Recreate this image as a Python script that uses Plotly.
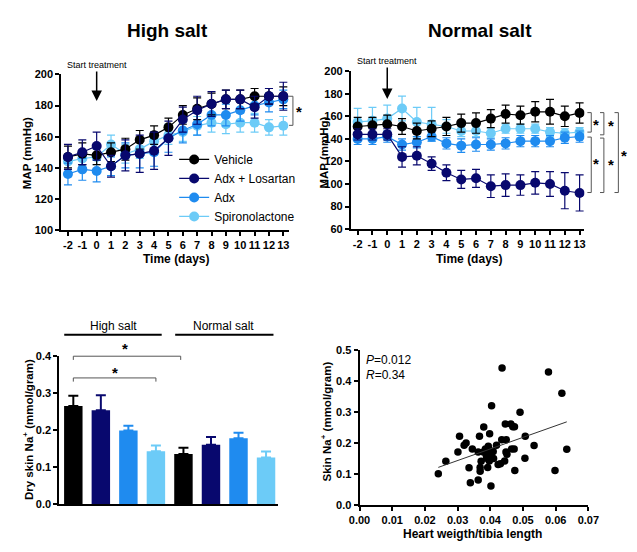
import plotly.graph_objects as go

# ---------------- data ----------------
days = list(range(-2, 14))
day_labels = [str(d) for d in days]
series_names = ["Vehicle", "Adx + Losartan", "Adx", "Spironolactone"]
series_colors = ["#000000", "#08086e", "#1f8bef", "#6ccbf7"]

# High salt MAP (mmHg)
hs_vehicle = [147, 149, 148, 150, 152, 158, 161, 166, 174, 178, 181, 184, 184, 186, 186, 186]
hs_adx_los = [147, 150, 154, 141, 148, 149, 151, 159, 171, 177, 181, 184, 184, 179, 186, 186]
hs_adx = [136, 139, 138, 141, 148, 149, 150, 159, 164, 168, 174, 174, 177, 180, 182, 184]
hs_spiro = [144, 146, 147, 155, 149, 152, 157, 161, 163, 167, 169, 168, 169, 169, 166, 167]
hs_vehicle_err = [7, 7, 6, 6, 7, 6, 6, 6, 6, 7, 7, 6, 6, 5, 5, 6]
hs_adx_los_err = [8, 8, 9, 7, 10, 12, 12, 11, 8, 9, 8, 6, 6, 7, 5, 9]
hs_adx_err = [7, 7, 7, 6, 8, 9, 9, 9, 8, 7, 7, 7, 7, 6, 6, 6]
hs_spiro_err = [5, 5, 5, 6, 6, 6, 6, 6, 6, 6, 6, 6, 6, 6, 5, 6]

# Normal salt MAP (mmHg)
ns_vehicle = [151, 152, 153, 151, 147, 149, 151, 154, 154, 158, 162, 161, 164, 164, 160, 163]
ns_adx_los = [144, 144, 144, 124, 125, 118, 110, 104, 105, 98, 99, 99, 101, 100, 94, 92]
ns_adx = [140, 140, 142, 135, 137, 142, 136, 134, 135, 135, 136, 138, 138, 138, 141, 142]
ns_spiro = [155, 156, 158, 167, 155, 153, 151, 147, 147, 145, 149, 149, 149, 146, 145, 146]
ns_vehicle_err = [8, 7, 8, 7, 7, 7, 8, 8, 9, 8, 8, 8, 9, 11, 9, 9]
ns_adx_los_err = [5, 5, 5, 9, 8, 6, 7, 8, 8, 10, 10, 9, 10, 11, 16, 16]
ns_adx_err = [5, 5, 5, 5, 5, 4, 5, 6, 6, 5, 5, 5, 5, 5, 5, 5]
ns_spiro_err = [12, 12, 12, 11, 13, 15, 6, 5, 5, 4, 4, 4, 4, 4, 4, 4]

# Dry skin Na+ (mmol/gram): [high salt, normal salt]
bar_groups = ["High salt", "Normal salt"]
skin_vehicle = [0.265, 0.135]
skin_adx_los = [0.254, 0.160]
skin_adx = [0.199, 0.178]
skin_spiro = [0.143, 0.126]
skin_vehicle_err = [0.028, 0.017]
skin_adx_los_err = [0.040, 0.021]
skin_adx_err = [0.013, 0.015]
skin_spiro_err = [0.015, 0.016]

# Scatter: heart weight / tibia length vs skin Na+
hw_tibia = [0.0241, 0.0264, 0.0306, 0.0301, 0.0320, 0.0326, 0.0335, 0.0339, 0.0345, 0.0363,
            0.0363, 0.0367, 0.0369, 0.0369, 0.0372, 0.0379, 0.0380, 0.0385, 0.0389, 0.0392,
            0.0394, 0.0398, 0.0400, 0.0402, 0.0404, 0.0404, 0.0409, 0.0397, 0.0419, 0.0424,
            0.0431, 0.0435, 0.0436, 0.0444, 0.0446, 0.0448, 0.0449, 0.0451, 0.0463, 0.0465,
            0.0469, 0.0473, 0.0474, 0.0475, 0.0491, 0.0506, 0.0507, 0.0534, 0.0578, 0.0598,
            0.0619, 0.0634, 0.0388, 0.0410, 0.0396]
skin_na = [0.101, 0.141, 0.222, 0.171, 0.193, 0.200, 0.120, 0.072, 0.181, 0.171,
           0.081, 0.222, 0.121, 0.109, 0.141, 0.171, 0.252, 0.181, 0.151, 0.121,
           0.190, 0.230, 0.171, 0.061, 0.321, 0.151, 0.173, 0.142, 0.193, 0.131,
           0.133, 0.211, 0.443, 0.142, 0.262, 0.171, 0.211, 0.164, 0.262, 0.181,
           0.253, 0.181, 0.253, 0.111, 0.300, 0.151, 0.222, 0.192, 0.430, 0.111,
           0.361, 0.180, 0.160, 0.150, 0.180]
fit_slope = 3.75
fit_intercept = 0.031

FONT = "Arial, Liberation Sans, sans-serif"

fig = go.Figure()

# ---------------- line charts ----------------
hs = [hs_vehicle, hs_adx_los, hs_adx, hs_spiro]
hs_err = [hs_vehicle_err, hs_adx_los_err, hs_adx_err, hs_spiro_err]
ns = [ns_vehicle, ns_adx_los, ns_adx, ns_spiro]
ns_err = [ns_vehicle_err, ns_adx_los_err, ns_adx_err, ns_spiro_err]
draw_order = [3, 2, 0, 1]

for ax, data, errs, show in [("", hs, hs_err, True), ("2", ns, ns_err, False)]:
    for i in draw_order:
        fig.add_trace(go.Scatter(
            x=days, y=data[i], name=series_names[i], mode="lines+markers",
            line=dict(color=series_colors[i], width=1.2),
            marker=dict(color=series_colors[i], size=10),
            error_y=dict(type="data", array=errs[i], color=series_colors[i], thickness=1.2, width=4),
            xaxis="x" + ax, yaxis="y" + ax, showlegend=show, legendrank=i + 1,
        ))

# ---------------- bar chart ----------------
skin = [skin_vehicle, skin_adx_los, skin_adx, skin_spiro]
skin_err = [skin_vehicle_err, skin_adx_los_err, skin_adx_err, skin_spiro_err]
for i in range(4):
    fig.add_trace(go.Bar(
        x=[g * 4 + i for g in range(len(bar_groups))], y=skin[i], width=0.67,
        marker=dict(color=series_colors[i], line=dict(width=0)),
        error_y=dict(type="data", symmetric=False, array=skin_err[i], arrayminus=[0] * len(bar_groups),
                     color=series_colors[i], thickness=2, width=5),
        xaxis="x3", yaxis="y3", showlegend=False,
    ))

# ---------------- scatter ----------------
fig.add_trace(go.Scatter(
    x=hw_tibia, y=skin_na, mode="markers", marker=dict(color="black", size=7.5),
    xaxis="x4", yaxis="y4", showlegend=False,
))
xf = [min(hw_tibia), max(hw_tibia)]
fig.add_trace(go.Scatter(
    x=xf, y=[fit_slope * v + fit_intercept for v in xf], mode="lines",
    line=dict(color="#333333", width=1), xaxis="x4", yaxis="y4", showlegend=False,
))

W, H = 637, 552
def px(x):
    return x / W
def py(y):
    return 1 - y / H

tickf = dict(family=FONT, size=11, color="black", weight="bold")
axis_common = dict(showline=True, linecolor="black", linewidth=2, ticks="outside", ticklen=4,
                   tickwidth=1.5, tickcolor="black", showgrid=False, zeroline=False, tickfont=tickf)

fig.update_layout(
    width=W, height=H, margin=dict(l=0, r=0, t=0, b=0),
    paper_bgcolor="white", plot_bgcolor="white", barmode="overlay",
    font=dict(family=FONT, color="black"),
    xaxis=dict(domain=[px(52), px(288)], range=[-2.47, 13.4], tickmode="array", tickvals=days,
               ticktext=day_labels, anchor="y", **axis_common),
    yaxis=dict(domain=[py(229), py(70)], range=[100, 200], dtick=20, anchor="x", **axis_common),
    xaxis2=dict(domain=[px(352), px(594)], range=[-2.46, 13.33], tickmode="array", tickvals=days,
                ticktext=day_labels, anchor="y2", **axis_common),
    yaxis2=dict(domain=[py(228), py(66.7)], range=[60, 200], dtick=20, anchor="x2", **axis_common),
    xaxis3=dict(domain=[px(50), px(277)], range=[-0.51, 7.45], anchor="y3", showline=True,
                linecolor="black", linewidth=2, showticklabels=False, ticks="", showgrid=False,
                zeroline=False),
    yaxis3=dict(domain=[py(509), py(358)], range=[0, 0.4], dtick=0.1, tickformat=".1f",
                anchor="x3", **axis_common),
    xaxis4=dict(domain=[px(361), px(598)], range=[0, 0.07], dtick=0.01, tickformat=".2f",
                anchor="y4", **axis_common),
    yaxis4=dict(domain=[py(510), py(352)], range=[0, 0.5], dtick=0.1, tickformat=".1f",
                anchor="x4", **axis_common),
    legend=dict(x=px(169), y=py(142), xanchor="left", yanchor="top", bgcolor="rgba(0,0,0,0)",
                font=dict(family=FONT, size=12, color="black"), tracegroupgap=0,
                traceorder="normal"),
)

ann = []
def text(x, y, t, size, bold=False, rot=0, xref="paper", yref="paper", **kw):
    ann.append(dict(x=x, y=y, xref=xref, yref=yref, text=t, showarrow=False, textangle=rot,
                    font=dict(family=FONT, size=size, color="black", weight="bold" if bold else "normal"),
                    xanchor="center", yanchor="middle", **kw))

text(px(162), py(25), "High salt", 19, True)
text(px(486), py(25), "Normal salt", 19, True)
text(px(16), py(150), "MAP (mmHg)", 11.5, True, -90)
text(px(171), py(259), "Time (days)", 12, True)
text(px(324), py(150), "MAP (mmHg)", 11.5, True, -90)
text(px(474), py(259), "Time (days)", 12, True)
text(px(17), py(433), "Dry skin Na<sup>+</sup> (mmol/gram)", 11.5, True, -90)
text(px(326), py(425), "Skin Na<sup>+</sup> (mmol/gram)", 11.5, True, -90)
text(px(478), py(540), "Heart weigth/tibia length", 12, True)
text(px(106), py(327), "High salt", 12)
text(px(220), py(327), "Normal salt", 12)
ann.append(dict(x=px(366), y=py(362), xref="paper", yref="paper", text="<i>P</i>=0.012",
                showarrow=False, xanchor="left", yanchor="middle",
                font=dict(family=FONT, size=12, color="black")))
ann.append(dict(x=px(366), y=py(377), xref="paper", yref="paper", text="<i>R</i>=0.34",
                showarrow=False, xanchor="left", yanchor="middle",
                font=dict(family=FONT, size=12, color="black")))

# start treatment arrows
for xr, yr, tip, ay in [("x", "y", 183, -36), ("x2", "y2", 175.4, -38)]:
    ann.append(dict(x=0, y=tip, xref=xr, yref=yr, ax=0, ay=ay, axref="pixel", ayref="pixel",
                    text="Start treatment", showarrow=True, arrowhead=2, arrowsize=1.4,
                    arrowwidth=1.5, arrowcolor="black",
                    font=dict(family=FONT, size=9, color="black")))

shapes = []
def bracket(xd, y0, y1, xref, yref, tick):
    shapes.append(dict(type="path", xref=xref, yref=yref,
                       path=f"M {xd - tick},{y0} L {xd},{y0} L {xd},{y1} L {xd - tick},{y1}",
                       line=dict(color="#555555", width=1)))

def star(x, y, xref, yref):
    ann.append(dict(x=x, y=y, xref=xref, yref=yref, text="*", showarrow=False,
                    xanchor="center", yanchor="middle",
                    font=dict(family=FONT, size=15, color="black", weight="bold")))

# High salt bracket
bracket(1.017, 186, 167.3, "x domain", "y", 0.017)
star(1.042, 176, "x domain", "y")
# Normal salt brackets
for xd, y0, y1, sx, sy in [(1.029, 163.3, 146, 1.05, 153),
                           (1.029, 141.6, 92.4, 1.05, 118),
                           (1.083, 163.3, 143.6, 1.112, 152),
                           (1.083, 140.7, 92.4, 1.112, 117),
                           (1.145, 163.3, 92.4, 1.169, 125)]:
    bracket(xd, y0, y1, "x2 domain", "y2", 0.0165)
    star(sx, sy, "x2 domain", "y2")

# bar chart group lines
shapes.append(dict(type="line", xref="x3", yref="paper", x0=-0.33, x1=3.21, y0=py(336), y1=py(336),
                   line=dict(color="black", width=2)))
shapes.append(dict(type="line", xref="x3", yref="paper", x0=3.70, x1=7.27, y0=py(336), y1=py(336),
                   line=dict(color="black", width=2)))
# bar chart significance brackets
for x0, x1, yv, sx, sy in [(0, 3.9, 1.0, 1.87, 1.05), (0, 3.0, 0.853, 1.5, 0.89)]:
    shapes.append(dict(type="path", xref="x3", yref="y3 domain",
                       path=f"M {x0},{yv - 0.025} L {x0},{yv} L {x1},{yv} L {x1},{yv - 0.025}",
                       line=dict(color="#555555", width=1)))
    star(sx, sy, "x3", "y3 domain")

fig.update_layout(annotations=ann, shapes=shapes)
fig.write_html("out.html")
